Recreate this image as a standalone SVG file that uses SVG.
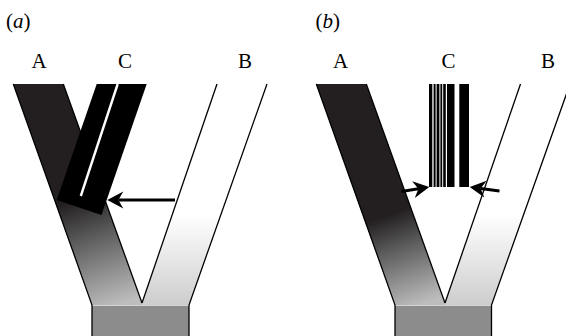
<svg xmlns="http://www.w3.org/2000/svg" width="566" height="336" viewBox="0 0 566 336">
<style>
.lbl{font-family:"Liberation Serif","Times New Roman",serif;font-size:21px;fill:#000}
.edge{fill:none;stroke:#000;stroke-width:1.3}
.stem{fill:#8c8c8c}
.sep{stroke:#d4d4d4;stroke-width:1.2}
.bar{fill:#000}
.arr{fill:none;stroke:#000;stroke-width:3}
</style>
<defs>
<linearGradient id="gA1" gradientUnits="userSpaceOnUse" x1="79.7" y1="198" x2="117.2" y2="305">
<stop offset="0" stop-color="#231f20"/><stop offset="0.35" stop-color="#5a5a5b"/><stop offset="1" stop-color="#bdbdbd"/>
</linearGradient>
<linearGradient id="gA2" gradientUnits="userSpaceOnUse" x1="388.1" y1="215" x2="420.2" y2="305">
<stop offset="0" stop-color="#231f20"/><stop offset="0.35" stop-color="#5a5a5b"/><stop offset="1" stop-color="#bdbdbd"/>
</linearGradient>
<linearGradient id="gB1" gradientUnits="userSpaceOnUse" x1="0" y1="215" x2="0" y2="305">
<stop offset="0" stop-color="#ffffff"/><stop offset="1" stop-color="#cdcdcd"/>
</linearGradient>
<marker id="ah" markerUnits="userSpaceOnUse" markerWidth="30" markerHeight="30" refX="0" refY="0" orient="auto" overflow="visible">
<path d="M11,0 L-5,-8.5 L0,0 L-5,8.5 Z" fill="#000"/>
</marker>
</defs>
<rect width="566" height="336" fill="#fff"/>

<text class="lbl" x="6" y="28">(<tspan font-style="italic">a</tspan>)</text>
<text class="lbl" x="315.5" y="28">(<tspan font-style="italic">b</tspan>)</text>

<g id="panel-a">
<g id="a-branchA">
<polygon points="13.3,84 63.3,84 142,303 142,305.5 92,305.5" fill="url(#gA1)"/>
<text class="lbl" x="39" y="68.3" text-anchor="middle">A</text>
</g>
<g id="a-branchB">
<polygon points="217,84 267,84 189,305.5 142,305.5 142,303" fill="url(#gB1)"/>
<text class="lbl" x="245" y="68.3" text-anchor="middle">B</text>
</g>
<g id="a-stem">
<rect class="stem" x="92" y="305.5" width="97" height="31"/>
<line class="sep" x1="92" y1="305.5" x2="189" y2="305.5"/>
</g>
<g id="a-edges">
<polyline class="edge" points="13.3,84 92,305 92,336"/>
<line class="edge" x1="63.3" y1="84" x2="142" y2="303"/>
<line class="edge" x1="217" y1="84" x2="142" y2="303"/>
<polyline class="edge" points="267,84 189,305 189,336"/>
</g>
<g id="a-branchC">
<polygon class="bar" points="96.7,84 146.7,84 101.5,215 56.7,200"/>
<line x1="117.7" y1="84" x2="80.8" y2="196" stroke="#fff" stroke-width="2.4"/>
<text class="lbl" x="125" y="68.3" text-anchor="middle">C</text>
</g>
</g>

<g id="panel-b">
<g id="b-branchA">
<polygon points="316.3,84 366.3,84 445,303 445,305.5 395,305.5" fill="url(#gA2)"/>
<text class="lbl" x="340.5" y="68.3" text-anchor="middle">A</text>
</g>
<g id="b-branchB">
<polygon points="520.5,84 570,84 491.5,305.5 445,305.5 445,303" fill="url(#gB1)"/>
<text class="lbl" x="548" y="68.3" text-anchor="middle">B</text>
</g>
<g id="b-stem">
<rect class="stem" x="395" y="305.5" width="96.5" height="31"/>
<line class="sep" x1="395" y1="305.5" x2="491.5" y2="305.5"/>
</g>
<g id="b-edges">
<polyline class="edge" points="316.3,84 395,305 395,336"/>
<line class="edge" x1="366.3" y1="84" x2="445" y2="303"/>
<line class="edge" x1="520.5" y1="84" x2="445" y2="303"/>
<polyline class="edge" points="570,84 491.5,305 491.5,336"/>
</g>
<g id="b-branchC">
<rect class="bar" x="429" y="84" width="3.3" height="103"/>
<rect class="bar" x="433.6" y="84" width="2" height="103"/>
<rect class="bar" x="436.6" y="84" width="2.8" height="103"/>
<rect class="bar" x="440.4" y="84" width="1.8" height="103"/>
<rect class="bar" x="443.2" y="84" width="2.6" height="103"/>
<rect class="bar" x="447" y="84" width="7.5" height="103"/>
<rect class="bar" x="459.3" y="84" width="9.7" height="103"/>
<text class="lbl" x="448.5" y="68.3" text-anchor="middle">C</text>
</g>
</g>

<g id="connectors">
<line class="arr" x1="175" y1="200" x2="118.3" y2="200" marker-end="url(#ah)"/>
<line class="arr" x1="401.5" y1="191.5" x2="418.4" y2="188.8" marker-end="url(#ah)"/>
<line class="arr" x1="499.5" y1="191" x2="480.6" y2="188.4" marker-end="url(#ah)"/>
</g>
</svg>
